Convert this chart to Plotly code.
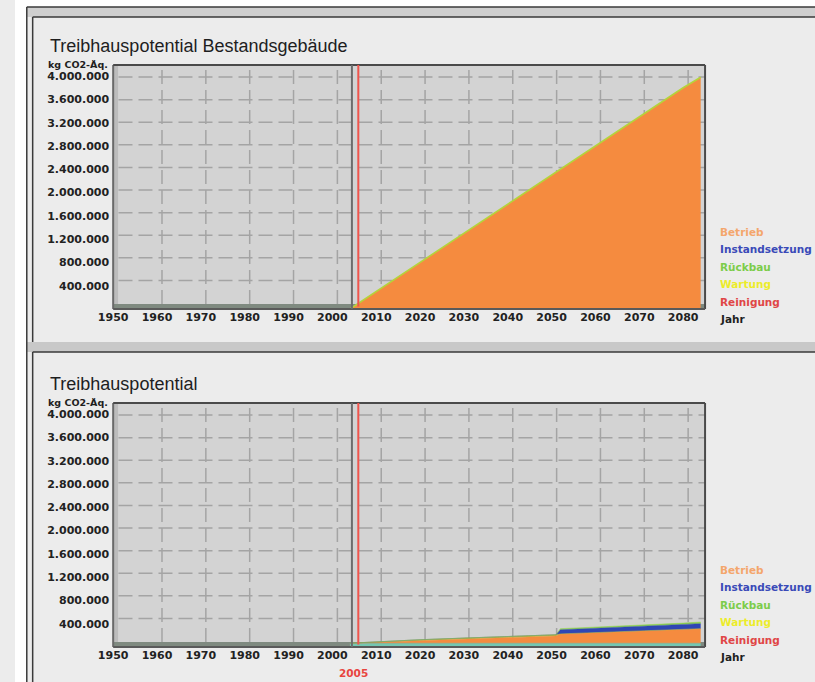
import plotly.graph_objects as go

W, H = 815, 682

# ---------------- data ----------------
x_ticks = [1950, 1960, 1970, 1980, 1990, 2000, 2010, 2020, 2030, 2040, 2050, 2060, 2070, 2080]
y_ticks = [400000, 800000, 1200000, 1600000, 2000000, 2400000, 2800000, 3200000, 3600000, 4000000]
legend_labels = ["Betrieb", "Instandsetzung", "Rückbau", "Wartung", "Reinigung"]
start_year = 2004
current_year = 2005

# top chart: Treibhauspotential Bestandsgebäude
years_top = [2004, 2010, 2020, 2030, 2040, 2050, 2060, 2070, 2080, 2084]
betrieb_top = [0, 300000, 800000, 1300000, 1800000, 2300000, 2800000, 3300000, 3800000, 3980000]

# bottom chart: Treibhauspotential
years_bot = [2004, 2010, 2020, 2030, 2040, 2048, 2051, 2052, 2060, 2070, 2080, 2084]
basis_bot = [65000, 65000, 65000, 65000, 65000, 65000, 65000, 65000, 65000, 65000, 65000, 65000]
betrieb_bot = [0, 15000, 45000, 70000, 95000, 115000, 125000, 160000, 180000, 205000, 235000, 250000]
wartung_bot = [0, 10000, 15000, 18000, 20000, 20000, 20000, 0, 0, 0, 0, 0]
instand_bot = [0, 0, 0, 0, 0, 0, 0, 70000, 75000, 80000, 85000, 86000]
rueckbau_bot = [0, 0, 0, 0, 0, 0, 0, 20000, 20000, 22000, 25000, 28000]

# ---------------- helpers ----------------
def px(x):
    return x / W

def py(y):
    return 1 - y / H

PLOT_L, PLOT_R = 100, 703
PANELS = [
    dict(top=65, bot=309, xa="x", ya="y"),
    dict(top=403, bot=647, xa="x2", ya="y2"),
]
YMAX = 4190000
XR = [1950, 2085]

C_ORANGE = "#f58b3f"
C_BLUE = "#2f46b4"
C_GREEN = "#8fd24e"
C_YELLOW = "#c9c233"
C_TEAL = "#74c7b2"
LEG_COLORS = ["#f4a66c", "#3a4ab8", "#7ccc4a", "#ecec2a", "#e04646"]

fig = go.Figure()

# top chart traces
fig.add_trace(go.Scatter(x=years_top, y=betrieb_top, name="Betrieb", mode="lines",
                         stackgroup="t", fillcolor=C_ORANGE,
                         line=dict(color="#b4d43c", width=1.6),
                         xaxis="x", yaxis="y", showlegend=False))

# bottom chart traces (stacked)
for vals, col, nm in [(basis_bot, C_TEAL, "Basis"), (betrieb_bot, C_ORANGE, "Betrieb"),
                      (wartung_bot, C_YELLOW, "Wartung"), (instand_bot, C_BLUE, "Instandsetzung"),
                      (rueckbau_bot, C_GREEN, "Rückbau")]:
    fig.add_trace(go.Scatter(x=years_bot, y=vals, name=nm, mode="lines",
                             stackgroup="b", fillcolor=col,
                             line=dict(color=col, width=0.5),
                             xaxis="x2", yaxis="y2", showlegend=False))

shapes = []
annotations = []

# window / panel frames
shapes += [
    dict(type="rect", xref="paper", yref="paper", x0=0, x1=px(11.5), y0=0, y1=1,
         fillcolor="white", line=dict(width=0), layer="below"),
    dict(type="rect", xref="paper", yref="paper", x0=0, x1=1, y0=py(7), y1=1,
         fillcolor="white", line=dict(width=0), layer="below"),
    dict(type="rect", xref="paper", yref="paper", x0=px(12), x1=1, y0=py(17), y1=py(7),
         fillcolor="#cfcfcf", line=dict(width=0), layer="below"),
    dict(type="rect", xref="paper", yref="paper", x0=px(12), x1=1, y0=py(352), y1=py(342),
         fillcolor="#c8c8c8", line=dict(width=0), layer="below"),
    dict(type="line", xref="paper", yref="paper", x0=px(12), x1=px(12), y0=0, y1=py(7),
         line=dict(color="#3a3a3a", width=1.5)),
    dict(type="line", xref="paper", yref="paper", x0=px(12), x1=1, y0=py(7), y1=py(7),
         line=dict(color="#3a3a3a", width=1.5)),
    dict(type="line", xref="paper", yref="paper", x0=px(18), x1=1, y0=py(17), y1=py(17),
         line=dict(color="#3a3a3a", width=1.5)),
    dict(type="line", xref="paper", yref="paper", x0=px(18), x1=px(18), y0=py(342), y1=py(17),
         line=dict(color="#3a3a3a", width=1.5)),
    dict(type="line", xref="paper", yref="paper", x0=px(18), x1=1, y0=py(352), y1=py(352),
         line=dict(color="#3a3a3a", width=1.5)),
    dict(type="line", xref="paper", yref="paper", x0=px(18), x1=px(18), y0=0, y1=py(352),
         line=dict(color="#3a3a3a", width=1.5)),
]

for p in PANELS:
    xa, ya = p["xa"], p["ya"]
    t, b = p["top"], p["bot"]
    # left wall
    shapes.append(dict(type="rect", xref="paper", yref="paper", x0=px(PLOT_L), x1=px(PLOT_L + 5),
                       y0=py(b), y1=py(t), fillcolor="#bcbcbc", line=dict(width=0), layer="below"))
    # floor
    shapes.append(dict(type="rect", xref="paper", yref="paper", x0=px(PLOT_L), x1=px(PLOT_R),
                       y0=py(b), y1=py(b - 5), fillcolor="#7f8a80", line=dict(width=0), layer="below"))
    # vertical grid (back wall, shifted)
    for xv in x_ticks[1:]:
        shapes.append(dict(type="line", xref=xa, yref=ya + " domain", xsizemode="pixel", xanchor=xv,
                           x0=5, x1=5, y0=0.02, y1=0.99,
                           line=dict(color="#a4a4a4", width=1.5, dash="14px,6px"), layer="below"))
    # horizontal grid (back wall)
    for yv in y_ticks:
        off = 6 - 7 * yv / 4000000
        shapes.append(dict(type="line", xref=xa + " domain", yref=ya, ysizemode="pixel", yanchor=yv,
                           y0=off, y1=off, x0=0.009, x1=1,
                           line=dict(color="#a4a4a4", width=1.5, dash="14px,6px"), layer="below"))
    # frame lines
    shapes.append(dict(type="line", xref="paper", yref="paper", x0=px(PLOT_L), x1=px(PLOT_L),
                       y0=py(b), y1=py(t), line=dict(color="#6a6a6a", width=2)))
    shapes.append(dict(type="line", xref="paper", yref="paper", x0=px(PLOT_L), x1=px(PLOT_R),
                       y0=py(t), y1=py(t), line=dict(color="#4a4a4a", width=2)))
    shapes.append(dict(type="line", xref="paper", yref="paper", x0=px(PLOT_R), x1=px(PLOT_R),
                       y0=py(b), y1=py(t), line=dict(color="#4a4a4a", width=2)))
    shapes.append(dict(type="line", xref="paper", yref="paper", x0=px(PLOT_L), x1=px(PLOT_R),
                       y0=py(b), y1=py(b), line=dict(color="#5a5a5a", width=2)))
    # start-year marker and current-year marker
    shapes.append(dict(type="line", xref=xa, yref=ya + " domain", xsizemode="pixel", xanchor=start_year,
                       x0=2, x1=2, y0=0, y1=1, line=dict(color="#6c6c6c", width=2)))
    shapes.append(dict(type="line", xref=xa, yref=ya + " domain", xsizemode="pixel", xanchor=current_year,
                       x0=4, x1=4, y0=0.01, y1=1, line=dict(color="#f0544c", width=2)))

# text
TITLE_FONT = dict(family="Liberation Sans, Arial, sans-serif", size=18, color="#1e1e1e")
SMALL_BOLD = dict(family="DejaVu Sans, sans-serif", size=10.5, color="#1e1e1e", weight="bold")

def ann(x, y, text, font, xanchor="left"):
    annotations.append(dict(x=px(x), y=py(y), xref="paper", yref="paper", text=text,
                            showarrow=False, xanchor=xanchor, yanchor="middle", font=font))

for p, title in zip(PANELS, ["Treibhauspotential Bestandsgebäude", "Treibhauspotential"]):
    t, b = p["top"], p["bot"]
    ann(34, t - 19, title, TITLE_FONT)
    ann(97, t - 1, "kg CO2-Äq.", dict(SMALL_BOLD, size=9.5), xanchor="right")
    for i, (lab, col) in enumerate(zip(legend_labels, LEG_COLORS)):
        ann(716, b - 77 + i * 17.4, lab, dict(SMALL_BOLD, color=col))
    ann(716, b + 10, "Jahr", SMALL_BOLD)

ann(345, 673, str(current_year), dict(SMALL_BOLD, color="#e8453f"), xanchor="center")

TICK_FONT = dict(family="DejaVu Sans, sans-serif", size=11, color="#222222", weight="bold")

def xaxis(dom_anchor):
    return dict(domain=[px(PLOT_L), px(PLOT_R)], range=XR, anchor=dom_anchor,
                tickvals=x_ticks, ticktext=[str(v) for v in x_ticks],
                showgrid=False, zeroline=False, showline=False, ticks="",
                tickfont=TICK_FONT, fixedrange=True)

def yaxis(p, anchor):
    return dict(domain=[py(p["bot"]), py(p["top"])], range=[0, YMAX], anchor=anchor,
                tickvals=y_ticks, tickformat=",d",
                showgrid=False, zeroline=False, showline=False, ticks="",
                tickfont=TICK_FONT, fixedrange=True, ticklabelstandoff=3)

fig.update_layout(
    width=W, height=H, autosize=False,
    margin=dict(l=0, r=0, t=0, b=0),
    paper_bgcolor="#ececec",
    plot_bgcolor="#d3d3d3",
    separators=",.",
    showlegend=False,
    xaxis=xaxis("y"),
    yaxis=yaxis(PANELS[0], "x"),
    xaxis2=xaxis("y2"),
    yaxis2=yaxis(PANELS[1], "x2"),
    shapes=shapes,
    annotations=annotations,
)

fig.write_html(
    "out.html",
    config={"displayModeBar": False},
    post_script="document.body.style.margin='0';document.body.style.padding='0';"
                "document.body.style.overflow='hidden';",
)
